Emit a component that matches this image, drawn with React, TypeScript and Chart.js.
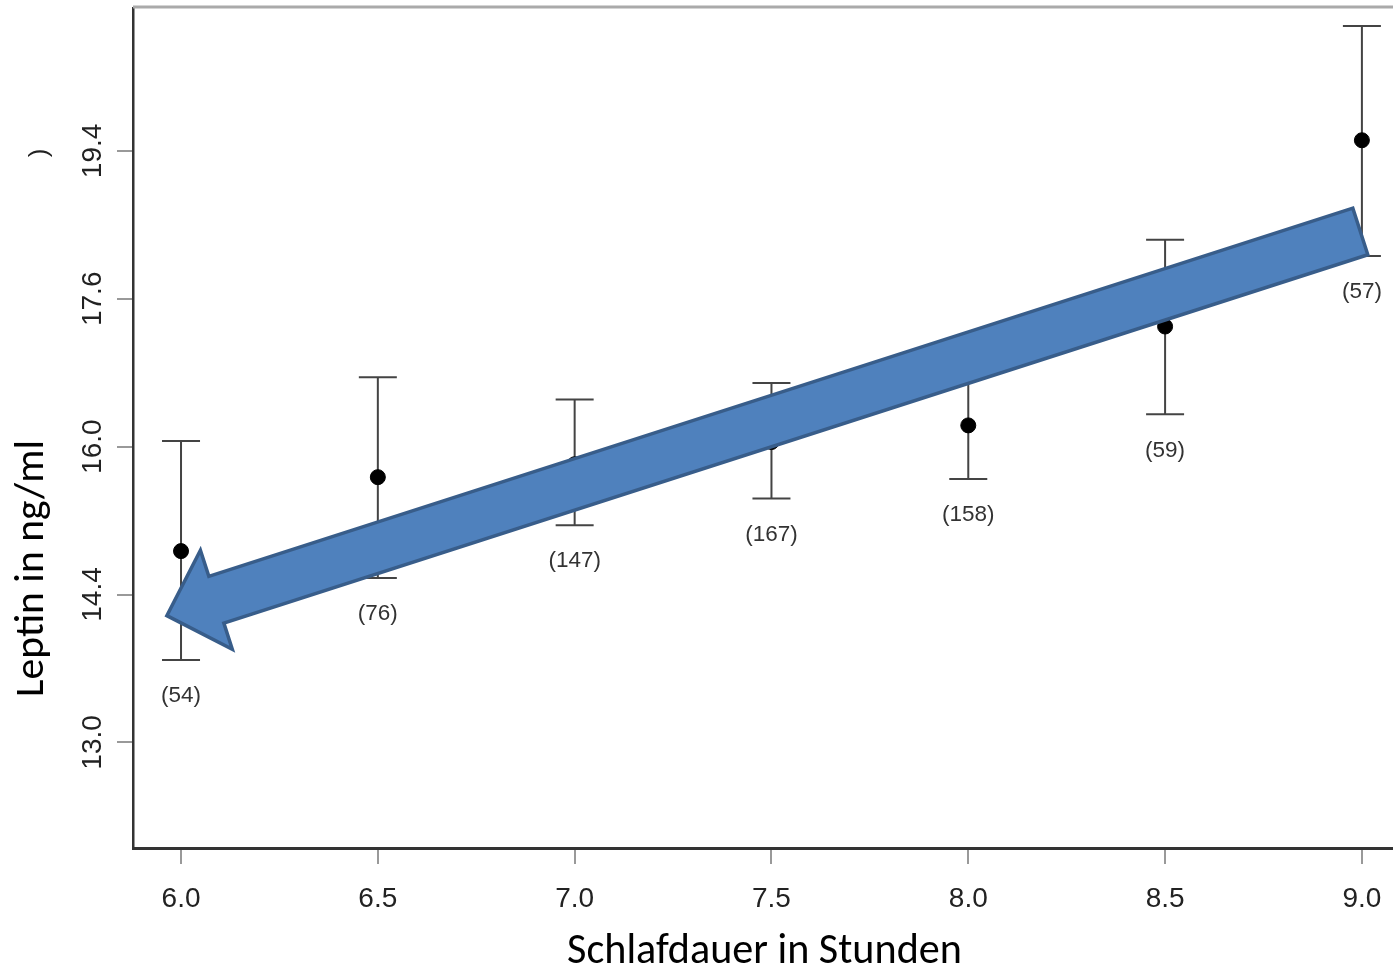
import React, { useEffect, useRef } from "react";
import { Chart, registerables } from "chart.js";

Chart.register(...registerables);

// ---- Data ----
const sleepHours = [6.0, 6.5, 7.0, 7.5, 8.0, 8.5, 9.0];
const leptinMean = [14.87, 15.67, 15.81, 16.05, 16.23, 17.3, 19.53];
const leptinUpper = [16.06, 16.75, 16.51, 16.69, 16.8, 18.32, 20.92];
const leptinLower = [13.78, 14.58, 15.15, 15.44, 15.65, 16.35, 18.12];
const groupSizes = [54, 76, 147, 167, 158, 59, 57];

const xTickValues = [6.0, 6.5, 7.0, 7.5, 8.0, 8.5, 9.0];
const xTickLabels = ["6.0", "6.5", "7.0", "7.5", "8.0", "8.5", "9.0"];
const yTickValues = [13.0, 14.4, 16.0, 17.6, 19.4];
const yTickLabels = ["13.0", "14.4", "16.0", "17.6", "19.4"];

const xRange = [5.878, 9.079];
const yRange = [12.0, 21.14];

const xTitle = "Schlafdauer in Stunden";
const yTitle = "Leptin in ng/ml";
const yTitleRemnant = ")";

// annotation arrow (tail -> tip), in data units
const arrowTail = { x: 8.996, y: 18.42 };
const arrowTip = { x: 5.964, y: 14.2 };

// The printed axis is spaced evenly between its labels: map values piecewise onto it
function toAxis(v: number): number {
  const t = yTickValues;
  const n = t.length;
  let i = 0;
  if (v <= t[0]) i = 0;
  else if (v >= t[n - 1]) i = n - 2;
  else {
    while (v > t[i + 1]) i++;
  }
  return i + (v - t[i]) / (t[i + 1] - t[i]);
}

const TICK_FONT = '28px "Liberation Sans", Arial, sans-serif';
const COUNT_FONT = '22.5px "Liberation Sans", Arial, sans-serif';

function fitFont(ctx: CanvasRenderingContext2D, text: string, family: string, width: number) {
  ctx.font = `100px ${family}`;
  const w = ctx.measureText(text).width;
  const size = (100 * width) / w;
  return `${size.toFixed(2)}px ${family}`;
}

const errorBarPlugin = {
  id: "errorBars",
  beforeDatasetsDraw(chart: any) {
    const { ctx, scales } = chart;
    const xs = scales.x;
    const ys = scales.y;
    ctx.save();
    ctx.strokeStyle = "#444";
    ctx.lineWidth = 2;
    const cap = 19;
    sleepHours.forEach((h, i) => {
      const px = xs.getPixelForValue(h);
      const top = ys.getPixelForValue(toAxis(leptinUpper[i]));
      const bot = ys.getPixelForValue(toAxis(leptinLower[i]));
      ctx.beginPath();
      ctx.moveTo(px, top);
      ctx.lineTo(px, bot);
      ctx.moveTo(px - cap, top);
      ctx.lineTo(px + cap, top);
      ctx.moveTo(px - cap, bot);
      ctx.lineTo(px + cap, bot);
      ctx.stroke();
      ctx.fillStyle = "#333";
      ctx.font = COUNT_FONT;
      ctx.textAlign = "center";
      ctx.textBaseline = "middle";
      ctx.fillText(`(${groupSizes[i]})`, px, bot + 36);
    });
    ctx.restore();
  },
};

const decorPlugin = {
  id: "decor",
  afterDraw(chart: any) {
    const { ctx, scales, chartArea } = chart;
    const xs = scales.x;
    const ys = scales.y;
    ctx.save();

    // top frame line
    ctx.strokeStyle = "#aaaaaa";
    ctx.lineWidth = 3;
    ctx.beginPath();
    ctx.moveTo(chartArea.left, chartArea.top - 1);
    ctx.lineTo(chartArea.right, chartArea.top - 1);
    ctx.stroke();

    // x tick labels
    ctx.fillStyle = "#222";
    ctx.font = TICK_FONT;
    ctx.textAlign = "center";
    ctx.textBaseline = "middle";
    xTickValues.forEach((v, i) => {
      ctx.fillText(xTickLabels[i], xs.getPixelForValue(v), chartArea.bottom + 51);
    });

    // y tick labels (rotated)
    yTickValues.forEach((v, i) => {
      const py = ys.getPixelForValue(toAxis(v));
      ctx.save();
      ctx.translate(chartArea.left - 40, py);
      ctx.rotate(-Math.PI / 2);
      ctx.fillText(yTickLabels[i], 0, 0);
      ctx.restore();
    });

    // remnant glyph of an older label
    ctx.save();
    ctx.translate(40, ys.getPixelForValue(toAxis(19.4)) + 2);
    ctx.rotate(-Math.PI / 2);
    ctx.font = '26px "Liberation Sans", Arial, sans-serif';
    ctx.fillStyle = "#222";
    ctx.fillText(yTitleRemnant, 0, 0);
    ctx.restore();

    // titles
    const fam = 'Carlito, Lato, "Open Sans", sans-serif';
    ctx.fillStyle = "#000";
    ctx.font = fitFont(ctx, xTitle, fam, 395);
    ctx.textAlign = "center";
    ctx.textBaseline = "alphabetic";
    ctx.fillText(xTitle, 764.5, 963);

    ctx.save();
    ctx.translate(43, 568.5);
    ctx.rotate(-Math.PI / 2);
    ctx.font = fitFont(ctx, yTitle, fam, 257);
    ctx.textAlign = "center";
    ctx.textBaseline = "alphabetic";
    ctx.fillText(yTitle, 0, 0);
    ctx.restore();

    // block arrow
    const T = { x: xs.getPixelForValue(arrowTail.x), y: ys.getPixelForValue(toAxis(arrowTail.y)) };
    const P = { x: xs.getPixelForValue(arrowTip.x), y: ys.getPixelForValue(toAxis(arrowTip.y)) };
    const dx = P.x - T.x;
    const dy = P.y - T.y;
    const len = Math.hypot(dx, dy);
    const u = { x: dx / len, y: dy / len };
    const n = { x: u.y, y: -u.x };
    const sh = 24.5;
    const hh = 52;
    const hl = 52;
    const J = { x: P.x - u.x * hl, y: P.y - u.y * hl };
    const pts = [
      [T.x + n.x * sh, T.y + n.y * sh],
      [J.x + n.x * sh, J.y + n.y * sh],
      [J.x + n.x * hh, J.y + n.y * hh],
      [P.x, P.y],
      [J.x - n.x * hh, J.y - n.y * hh],
      [J.x - n.x * sh, J.y - n.y * sh],
      [T.x - n.x * sh, T.y - n.y * sh],
    ];
    ctx.beginPath();
    pts.forEach(([x, y], i) => (i === 0 ? ctx.moveTo(x, y) : ctx.lineTo(x, y)));
    ctx.closePath();
    ctx.fillStyle = "#4f81bd";
    ctx.fill();
    ctx.lineJoin = "miter";
    ctx.strokeStyle = "#385d8a";
    ctx.lineWidth = 3.5;
    ctx.stroke();

    ctx.restore();
  },
};

export default function App() {
  const ref = useRef<HTMLCanvasElement>(null);

  useEffect(() => {
    const canvas = ref.current;
    if (!canvas) return;
    const chart = new Chart(canvas, {
      type: "scatter",
      data: {
        datasets: [
          {
            label: "Leptin",
            data: sleepHours.map((h, i) => ({ x: h, y: toAxis(leptinMean[i]) })),
            backgroundColor: "#000",
            borderColor: "#000",
            pointRadius: 7.5,
            pointHoverRadius: 7.5,
            clip: false as any,
          },
        ],
      },
      options: {
        animation: false,
        responsive: false,
        devicePixelRatio: 1,
        events: [],
        layout: { autoPadding: false, padding: { top: 8, left: 0, right: 0, bottom: 0 } },
        plugins: { legend: { display: false }, tooltip: { enabled: false } },
        scales: {
          x: {
            type: "linear",
            min: xRange[0],
            max: xRange[1],
            afterBuildTicks: (s: any) => {
              s.ticks = xTickValues.map((v) => ({ value: v }));
            },
            afterFit: (s: any) => {
              s.height = 119;
            },
            ticks: { display: false },
            grid: {
              drawOnChartArea: false,
              drawTicks: true,
              tickLength: 16,
              tickColor: "#999",
              lineWidth: 2,
            },
            border: { display: true, color: "#333", width: 3 },
          },
          y: {
            type: "linear",
            min: toAxis(yRange[0]),
            max: toAxis(yRange[1]),
            afterBuildTicks: (s: any) => {
              s.ticks = yTickValues.map((v) => ({ value: toAxis(v) }));
            },
            afterFit: (s: any) => {
              s.width = 133;
            },
            ticks: { display: false },
            grid: {
              drawOnChartArea: false,
              drawTicks: true,
              tickLength: 16,
              tickColor: "#999",
              lineWidth: 2,
            },
            border: { display: true, color: "#333", width: 2.5 },
          },
        },
      },
      plugins: [errorBarPlugin, decorPlugin],
    });
    return () => chart.destroy();
  }, []);

  return (
    <div style={{ position: "absolute", left: 0, top: 0, width: 1393, height: 967, background: "#fff" }}>
      <canvas ref={ref} width={1393} height={967} style={{ display: "block" }} />
    </div>
  );
}
